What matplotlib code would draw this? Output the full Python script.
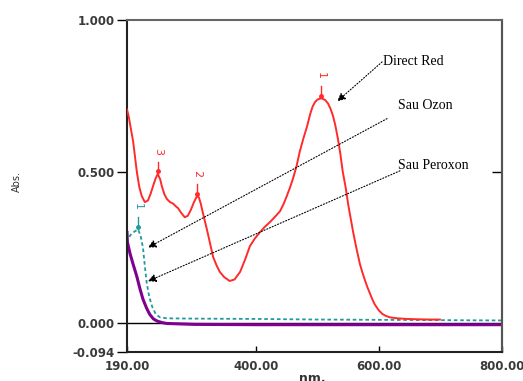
import matplotlib.pyplot as plt

# Direct Red spectrum (nm, Abs.)
red_nm = [190, 193, 196, 200, 203, 206, 210, 214, 219, 224, 228, 232, 236, 240, 244, 247, 251,
          255, 260, 265, 269, 273, 278, 284, 289, 294, 299, 304, 307, 310, 314, 320, 325, 330,
          336, 341, 348, 357, 365, 374, 382, 390, 398, 406, 414, 423, 431, 439, 445, 450, 455,
          460, 466, 471, 477, 483, 488, 492, 496, 500, 506, 512, 517, 521, 525, 529, 533, 537,
          541, 546, 550, 554, 558, 563, 569, 573, 577, 581, 585, 589, 593, 599, 605, 611, 618,
          630, 645, 660, 680, 699]
red_abs = [0.705, 0.68, 0.645, 0.60, 0.55, 0.50, 0.45, 0.42, 0.40, 0.405, 0.425, 0.45, 0.475, 0.493,
           0.475, 0.45, 0.425, 0.41, 0.40, 0.395, 0.387, 0.38, 0.365, 0.35, 0.355, 0.375, 0.40, 0.42,
           0.415, 0.395, 0.36, 0.31, 0.265, 0.22, 0.19, 0.17, 0.153, 0.14, 0.145, 0.17, 0.21, 0.255,
           0.28, 0.30, 0.318, 0.335, 0.352, 0.37, 0.395, 0.42, 0.447, 0.477, 0.52, 0.566, 0.61, 0.65,
           0.69, 0.715, 0.73, 0.738, 0.742, 0.737, 0.725, 0.708, 0.685, 0.652, 0.61, 0.56, 0.50,
           0.445, 0.39, 0.345, 0.30, 0.25, 0.195, 0.168, 0.143, 0.12, 0.10, 0.08, 0.063, 0.045, 0.032,
           0.025, 0.02, 0.017, 0.015, 0.014, 0.013, 0.013]

# Sau Ozon (teal)
ozon_nm = [190, 190.5, 195, 200, 204, 208, 212, 216, 219, 222, 226, 231, 237, 244, 255,
           300, 400, 500, 600, 700, 800]
ozon_abs = [0.12, 0.27, 0.29, 0.30, 0.305, 0.31, 0.29, 0.25, 0.19, 0.135, 0.09, 0.055, 0.03, 0.02, 0.017,
            0.016, 0.015, 0.013, 0.012, 0.011, 0.01]

# Sau Peroxon (purple)
perox_nm = [190, 190.5, 195, 200, 206, 211, 216, 222, 227, 233, 239, 247, 255, 300, 400, 500, 600, 800]
perox_abs = [0.30, 0.27, 0.23, 0.195, 0.155, 0.115, 0.08, 0.05, 0.03, 0.015, 0.008, 0.003, 0.0,
             -0.003, -0.004, -0.004, -0.004, -0.004]

# peak picks
red_peaks_nm = [506, 304, 240]
red_peaks_abs = [0.742, 0.42, 0.493]
red_peaks_lbl = ["1", "2", "3"]
ozon_peak_nm = [208]
ozon_peak_abs = [0.31]

xticks = [190, 400, 600, 800]
xtick_lbl = ["190.00", "400.00", "600.00", "800.00"]
yticks = [-0.094, 0.0, 0.5, 1.0]
ytick_lbl = ["-0.094", "0.000", "0.500", "1.000"]

RED = "#ff2a2a"
TEAL = "#229a9a"
PURPLE = "#800090"

fig = plt.figure(figsize=(5.23, 3.81), dpi=100)
ax = fig.add_axes([0.2428, 0.0761, 0.717, 0.8714])

ax.axhline(0, color="black", lw=1.0, zorder=1)
ax.plot(red_nm, red_abs, color=RED, lw=1.4, zorder=3)
ax.plot(ozon_nm, ozon_abs, color=TEAL, lw=1.3, ls=(0, (2, 1.5)), zorder=2)
ax.plot(perox_nm, perox_abs, color=PURPLE, lw=2.2, zorder=2)

def peak_mark(x, y, lbl, col):
    ax.plot([x, x], [y + 0.008, y + 0.04], color=col, lw=1.0, zorder=4)
    ax.plot([x], [y + 0.008], "o", color=col, ms=2.5, zorder=4)
    ax.text(x, y + 0.075, lbl, color=col, fontsize=8, rotation=-90,
            ha="center", va="center", family="DejaVu Sans")

for x, y, l in zip(red_peaks_nm, red_peaks_abs, red_peaks_lbl):
    peak_mark(x, y, l, RED)
for x, y in zip(ozon_peak_nm, ozon_peak_abs):
    peak_mark(x, y, "1", TEAL)

arrow = dict(arrowstyle="-|>", color="black", lw=0.8, ls=":",
             mutation_scale=12, shrinkA=0, shrinkB=0)
serif = "Liberation Serif"
ax.annotate("", xy=(532, 0.732), xytext=(605, 0.862), arrowprops=arrow)
ax.text(607, 0.864, "Direct Red", family=serif, fontsize=10, va="center", ha="left")
ax.annotate("", xy=(224, 0.25), xytext=(613, 0.675), arrowprops=arrow)
ax.text(631, 0.719, "Sau Ozon", family=serif, fontsize=10, va="center", ha="left")
ax.annotate("", xy=(224, 0.139), xytext=(634, 0.503), arrowprops=arrow)
ax.text(631, 0.52, "Sau Peroxon", family=serif, fontsize=10, va="center", ha="left")

ax.set_xlim(190, 800)
ax.set_ylim(-0.094, 1.0)

tick_font = dict(family="DejaVu Sans", weight="bold", size=8.5, color="#3a3a3a")
ax.set_xticks(xticks)
ax.set_xticklabels(xtick_lbl, **tick_font)
ax.set_yticks(yticks)
ax.set_yticklabels(ytick_lbl, **tick_font)
ax.tick_params(axis="y", direction="out", length=7, width=1.0, pad=2)
ax.tick_params(axis="x", direction="in", length=4, width=1.0, pad=6)

ry = ax.secondary_yaxis("right")
ry.set_yticks([0.5])
ry.set_yticklabels([""])
ry.tick_params(direction="in", length=7, width=1.0)
ry.spines["right"].set_color("#555555")
ry.spines["right"].set_linewidth(1.5)

for s in ["left", "bottom"]:
    ax.spines[s].set_linewidth(1.5)
    ax.spines[s].set_color("#222222")
ax.spines["top"].set_color("#666666")
ax.spines["top"].set_linewidth(1.5)
ax.spines["right"].set_color("#555555")
ax.spines["right"].set_linewidth(1.5)

ax.set_ylabel("Abs.", fontsize=7, color="#333333", family="DejaVu Sans")
ax.yaxis.set_label_coords(-0.28, 0.515)
ax.set_xlabel("nm.", fontsize=9, color="#333333", family="DejaVu Sans", weight="bold")
ax.xaxis.set_label_coords(0.493, -0.06)

fig.savefig("out.png", dpi=100)
